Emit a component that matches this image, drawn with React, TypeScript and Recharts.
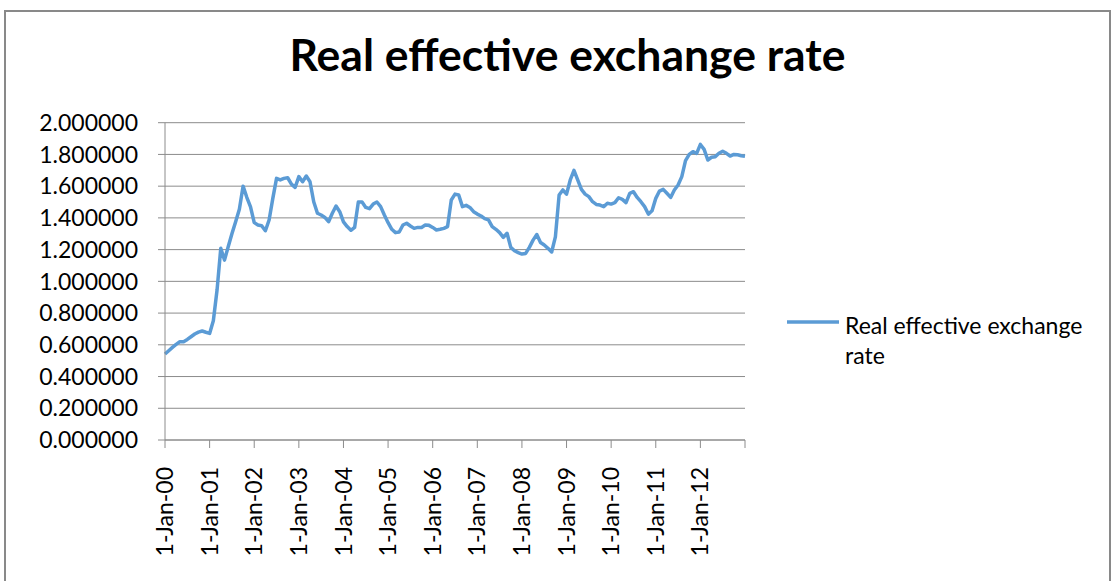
import * as React from "react";
import { CartesianGrid, Line, LineChart, XAxis, YAxis } from "recharts";

// monthly index, Jan 2000 onwards
const reerValues = [
  0.542, 0.563, 0.584, 0.603, 0.62, 0.62, 0.634, 0.651, 0.668, 0.68, 0.687, 0.679,
  0.672, 0.752, 0.945, 1.208, 1.134, 1.218, 1.3, 1.376, 1.454, 1.6, 1.53, 1.47,
  1.37, 1.355, 1.351, 1.319, 1.387, 1.523, 1.649, 1.639, 1.649, 1.653, 1.613, 1.592,
  1.66, 1.628, 1.664, 1.628, 1.502, 1.429, 1.418, 1.403, 1.376, 1.429, 1.475, 1.439,
  1.375, 1.345, 1.322, 1.34, 1.5, 1.5, 1.466, 1.458, 1.487, 1.5, 1.471, 1.418,
  1.37, 1.328, 1.307, 1.311, 1.355, 1.366, 1.349, 1.334, 1.34, 1.34, 1.355, 1.353,
  1.34, 1.324, 1.328, 1.334, 1.345, 1.513, 1.55, 1.544, 1.471, 1.479, 1.466, 1.439,
  1.424, 1.412, 1.395, 1.387, 1.345, 1.328, 1.307, 1.277, 1.303, 1.214, 1.193, 1.181,
  1.172, 1.176, 1.214, 1.26, 1.295, 1.245, 1.229, 1.208, 1.185, 1.28, 1.544, 1.576,
  1.55, 1.639, 1.7, 1.64, 1.58, 1.55, 1.534, 1.502, 1.485, 1.481, 1.471, 1.492,
  1.487, 1.496, 1.527, 1.517, 1.496, 1.555, 1.565, 1.529, 1.502, 1.471, 1.424, 1.445,
  1.523, 1.569, 1.58, 1.555, 1.529, 1.576, 1.607, 1.66, 1.761, 1.8, 1.817, 1.807,
  1.863, 1.832, 1.765, 1.782, 1.786, 1.807, 1.82, 1.807, 1.79, 1.8, 1.798, 1.792,
  1.788,
];

const yearLabels = [
  "1-Jan-00", "1-Jan-01", "1-Jan-02", "1-Jan-03", "1-Jan-04", "1-Jan-05", "1-Jan-06",
  "1-Jan-07", "1-Jan-08", "1-Jan-09", "1-Jan-10", "1-Jan-11", "1-Jan-12",
];

const yTicks = [0, 0.2, 0.4, 0.6, 0.8, 1.0, 1.2, 1.4, 1.6, 1.8, 2.0];

const seriesName = "Real effective exchange rate";

const BLUE = "#5b9bd5";
const GRID = "#8c8c8c";
const FONT = "Lato, 'Open Sans', sans-serif";

const data = reerValues.map((v, i) => ({ m: i, value: v }));
const xTicks = [...yearLabels.map((_, i) => i * 12), yearLabels.length * 12];

function DateTick(props: { x?: number; y?: number; payload?: { value: number } }) {
  const { x = 0, y = 0, payload } = props;
  const label = yearLabels[(payload?.value ?? 0) / 12];
  if (!label) return null;
  return (
    <text
      x={x}
      y={y}
      dy="0.35em"
      transform={`rotate(-90, ${x}, ${y})`}
      textAnchor="end"
      fill="#000"
      fontSize={23}
      fontFamily={FONT}
    >
      {label}
    </text>
  );
}

export default function App() {
  return (
    <div style={{ position: "absolute", left: 0, top: 0, width: 1113, height: 581, overflow: "hidden", background: "#fff" }}>
      <div
        style={{
          position: "absolute",
          left: 4,
          top: 10,
          width: 1103,
          height: 600,
          border: "2px solid #898989",
          borderBottom: "none",
        }}
      />
      <div
        style={{
          position: "absolute",
          left: 0,
          top: 31,
          width: 1135,
          textAlign: "center",
          fontFamily: FONT,
          fontWeight: 700,
          fontSize: 44.5,
          lineHeight: "45px",
          color: "#000",
        }}
      >
        {seriesName}
      </div>
      <div style={{ position: "absolute", left: 0, top: 0 }}>
        <LineChart
          width={1113}
          height={581}
          data={data}
          margin={{ top: 122.7, right: 368, bottom: 0, left: 0 }}
        >
          <CartesianGrid vertical={false} stroke={GRID} strokeWidth={1} />
          <XAxis
            dataKey="m"
            type="number"
            domain={[0, 156]}
            ticks={xTicks}
            interval={0}
            tick={<DateTick />}
            tickSize={8}
            tickMargin={19}
            stroke={GRID}
            height={141}
          />
          <YAxis
            type="number"
            domain={[0, 2]}
            ticks={yTicks}
            interval={0}
            width={165}
            tickSize={7}
            tickMargin={20}
            stroke={GRID}
            tick={{ fill: "#000", fontSize: 23, fontFamily: FONT }}
            tickFormatter={(v: number) => v.toFixed(6)}
          />
          <Line
            type="linear"
            dataKey="value"
            name={seriesName}
            stroke={BLUE}
            strokeWidth={3.5}
            strokeLinejoin="round"
            dot={false}
            isAnimationActive={false}
          />
        </LineChart>
      </div>
      <svg style={{ position: "absolute", left: 785, top: 312 }} width={56} height={20}>
        <line x1={2} y1={10} x2={54} y2={10} stroke={BLUE} strokeWidth={3.5} />
      </svg>
      <div
        style={{
          position: "absolute",
          left: 845,
          top: 310,
          fontFamily: FONT,
          fontSize: 23,
          lineHeight: "30px",
          color: "#000",
        }}
      >
        Real effective exchange
        <br />
        rate
      </div>
    </div>
  );
}
